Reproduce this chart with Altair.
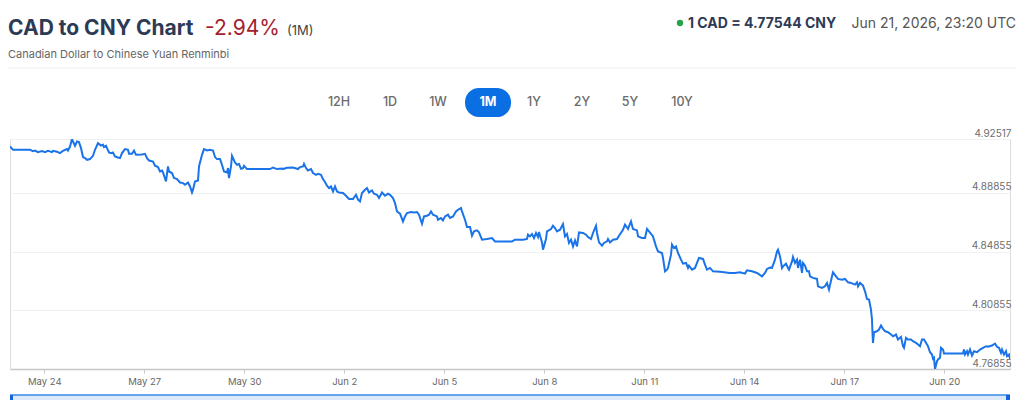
import altair as alt
import pandas as pd

START = "2026-05-22T23:20:00Z"

offset_days = [
    0.00, 0.09, 0.60, 0.69, 0.75, 0.84, 0.96, 1.05, 1.14, 1.26,
    1.29, 1.41, 1.50, 1.59, 1.71, 1.74, 1.80, 1.86, 1.89, 1.95,
    2.01, 2.07, 2.13, 2.19, 2.25, 2.31, 2.40, 2.49, 2.55, 2.64,
    2.73, 2.79, 2.82, 2.88, 2.91, 2.97, 3.03, 3.09, 3.15, 3.24,
    3.30, 3.36, 3.45, 3.54, 3.57, 3.66, 3.72, 3.78, 3.96, 4.05,
    4.11, 4.17, 4.29, 4.35, 4.44, 4.50, 4.56, 4.59, 4.68, 4.74,
    4.77, 4.86, 4.92, 5.01, 5.10, 5.19, 5.25, 5.34, 5.40, 5.46,
    5.49, 5.55, 5.64, 5.67, 5.76, 5.82, 5.91, 6.00, 6.09, 6.15,
    6.21, 6.30, 6.36, 6.42, 6.51, 6.54, 6.57, 6.63, 6.66, 6.75,
    6.81, 6.87, 6.93, 6.99, 7.02, 7.11, 7.80, 7.89, 8.01, 8.16,
    8.19, 8.31, 8.49, 8.64, 8.70, 8.79, 8.82, 8.88, 8.94, 9.03,
    9.09, 9.18, 9.24, 9.33, 9.39, 9.45, 9.51, 9.57, 9.63, 9.69,
    9.75, 9.81, 9.87, 9.99, 10.08, 10.17, 10.29, 10.38, 10.44, 10.50,
    10.56, 10.65, 10.71, 10.77, 10.86, 10.92, 11.01, 11.07, 11.16, 11.25,
    11.34, 11.40, 11.49, 11.55, 11.61, 11.70, 11.79, 11.85, 11.91, 12.03,
    12.12, 12.21, 12.27, 12.36, 12.42, 12.51, 12.57, 12.63, 12.69, 12.81,
    12.84, 12.93, 12.99, 13.05, 13.14, 13.20, 13.29, 13.38, 13.44, 13.53,
    13.56, 13.65, 13.71, 13.80, 13.86, 13.92, 14.01, 14.07, 14.16, 14.31,
    14.46, 14.55, 15.06, 15.15, 15.39, 15.51, 15.54, 15.60, 15.66, 15.72,
    15.78, 15.84, 15.87, 15.96, 15.99, 16.08, 16.11, 16.23, 16.29, 16.35,
    16.41, 16.50, 16.59, 16.65, 16.71, 16.77, 16.83, 16.89, 16.95, 17.01,
    17.07, 17.19, 17.28, 17.34, 17.43, 17.49, 17.58, 17.61, 17.67, 17.76,
    17.82, 17.91, 17.94, 18.00, 18.09, 18.21, 18.27, 18.39, 18.45, 18.54,
    18.57, 18.63, 18.69, 18.81, 18.84, 18.96, 19.05, 19.11, 19.17, 19.29,
    19.38, 19.44, 19.56, 19.59, 19.65, 19.71, 19.74, 19.83, 19.86, 19.92,
    19.98, 20.04, 20.13, 20.19, 20.28, 20.34, 20.37, 20.46, 20.55, 20.61,
    20.67, 20.79, 20.85, 20.91, 21.00, 21.09, 21.30, 21.60, 21.75, 21.90,
    22.05, 22.11, 22.26, 22.41, 22.56, 22.65, 22.71, 22.80, 22.86, 22.95,
    23.01, 23.04, 23.10, 23.16, 23.19, 23.28, 23.34, 23.37, 23.46, 23.49,
    23.55, 23.61, 23.64, 23.70, 23.76, 23.79, 23.85, 23.91, 23.97, 24.00,
    24.09, 24.21, 24.24, 24.36, 24.45, 24.51, 24.57, 24.66, 24.69, 24.78,
    24.84, 24.96, 25.05, 25.14, 25.23, 25.35, 25.41, 25.44, 25.50, 25.59,
    25.65, 25.71, 25.77, 25.83, 25.86, 25.87, 25.89, 25.92, 26.01, 26.07,
    26.13, 26.19, 26.25, 26.34, 26.43, 26.49, 26.58, 26.64, 26.73, 26.79,
    26.82, 26.88, 26.94, 27.03, 27.09, 27.18, 27.24, 27.30, 27.36, 27.42,
    27.48, 27.54, 27.60, 27.66, 27.69, 27.72, 27.75, 27.81, 27.84, 27.90,
    27.93, 27.99, 28.02, 28.59, 28.62, 28.65, 28.71, 28.74, 28.80, 28.86,
    28.92, 29.01, 29.10, 29.19, 29.28, 29.34, 29.46, 29.55, 29.61, 29.67,
    29.73, 29.76, 29.82, 29.88, 29.91, 29.97, 30.00,
]

cad_cny = [
    4.92005, 4.91781, 4.91781, 4.91693, 4.91733, 4.91625, 4.91693, 4.91625, 4.91713, 4.91625,
    4.91713, 4.91645, 4.91557, 4.91713, 4.91829, 4.91733, 4.92005, 4.92517, 4.92345, 4.92053,
    4.92345, 4.92305, 4.91897, 4.91285, 4.91217, 4.91101, 4.91149, 4.91373, 4.91781, 4.92237,
    4.92073, 4.92121, 4.91965, 4.92053, 4.91897, 4.91597, 4.91557, 4.91597, 4.91325, 4.91257,
    4.91217, 4.91557, 4.91829, 4.91781, 4.91509, 4.91509, 4.91733, 4.91441, 4.91461, 4.91509,
    4.91217, 4.91053, 4.90985, 4.90693, 4.90605, 4.90305, 4.90373, 4.90237, 4.89625, 4.90645,
    4.90305, 4.90197, 4.89857, 4.89789, 4.89557, 4.89517, 4.89401, 4.89557, 4.89285, 4.88877,
    4.89061, 4.89625, 4.89693, 4.90645, 4.91441, 4.91829, 4.91733, 4.91781, 4.91733, 4.91285,
    4.91149, 4.91149, 4.90761, 4.90305, 4.90237, 4.90537, 4.89857, 4.90645, 4.91373, 4.90917,
    4.90761, 4.90809, 4.90489, 4.90537, 4.90693, 4.90469, 4.90469, 4.90577, 4.90469, 4.90510,
    4.90469, 4.90557, 4.90577, 4.90469, 4.90605, 4.90645, 4.90829, 4.90537, 4.90373, 4.90469,
    4.90197, 4.90081, 4.90149, 4.90081, 4.89789, 4.89585, 4.89333, 4.89177, 4.89285, 4.88945,
    4.89285, 4.88945, 4.88877, 4.88837, 4.88653, 4.88429, 4.88429, 4.88721, 4.88381, 4.88265,
    4.88837, 4.89061, 4.89177, 4.88877, 4.89013, 4.88789, 4.88721, 4.88497, 4.88877, 4.88653,
    4.88789, 4.88721, 4.88497, 4.88157, 4.87585, 4.87429, 4.86905, 4.87245, 4.87477, 4.87545,
    4.87517, 4.87545, 4.87361, 4.86749, 4.87245, 4.87293, 4.87361, 4.87585, 4.87361, 4.87245,
    4.87021, 4.87137, 4.86973, 4.87245, 4.87361, 4.87137, 4.87245, 4.87585, 4.87701, 4.87817,
    4.87585, 4.87021, 4.86525, 4.86525, 4.85933, 4.86225, 4.86293, 4.86157, 4.85661, 4.85709,
    4.85777, 4.85545, 4.85545, 4.85661, 4.85661, 4.85709, 4.86001, 4.85885, 4.86049, 4.85777,
    4.86117, 4.85845, 4.86185, 4.85477, 4.84981, 4.85709, 4.86225, 4.86389, 4.86613, 4.86457,
    4.86225, 4.86341, 4.86729, 4.85885, 4.86049, 4.85437, 4.85661, 4.85205, 4.85613, 4.85205,
    4.86157, 4.86117, 4.86001, 4.85845, 4.85709, 4.86117, 4.86613, 4.86117, 4.85477, 4.85253,
    4.85437, 4.85545, 4.85709, 4.85477, 4.85661, 4.85709, 4.85933, 4.86341, 4.86681, 4.86389,
    4.86565, 4.86905, 4.86389, 4.86293, 4.85885, 4.85777, 4.85777, 4.86389, 4.86225, 4.85885,
    4.85205, 4.84865, 4.84757, 4.84417, 4.83505, 4.83621, 4.83737, 4.84641, 4.85321, 4.85097,
    4.85205, 4.84757, 4.84301, 4.84029, 4.84077, 4.83737, 4.83893, 4.83621, 4.83737, 4.84077,
    4.84417, 4.84349, 4.83961, 4.83621, 4.83737, 4.83505, 4.83485, 4.83397, 4.83397, 4.83437,
    4.83349, 4.83573, 4.83505, 4.83397, 4.83165, 4.83397, 4.83669, 4.83757, 4.83737, 4.84301,
    4.84865, 4.84981, 4.84525, 4.83737, 4.83845, 4.84029, 4.83737, 4.83621, 4.84185, 4.84485,
    4.84077, 4.84301, 4.83737, 4.84301, 4.83397, 4.84077, 4.83893, 4.83505, 4.83505, 4.83165,
    4.83057, 4.82989, 4.82485, 4.82377, 4.82485, 4.82717, 4.82261, 4.83165, 4.83437, 4.83165,
    4.82989, 4.82941, 4.82989, 4.82757, 4.82717, 4.82601, 4.82757, 4.82485, 4.82717, 4.82533,
    4.82145, 4.81629, 4.81581, 4.80901, 4.80221, 4.79541, 4.78637, 4.79357, 4.79425, 4.79541,
    4.79813, 4.79589, 4.79425, 4.79357, 4.79201, 4.79085, 4.79201, 4.78861, 4.79045, 4.78405,
    4.78297, 4.78977, 4.78861, 4.78861, 4.78745, 4.78637, 4.78521, 4.78405, 4.78861, 4.78861,
    4.78637, 4.78405, 4.77997, 4.77841, 4.77549, 4.77617, 4.76855, 4.77385, 4.77501, 4.77617,
    4.78297, 4.78181, 4.77909, 4.77909, 4.78181, 4.77841, 4.78065, 4.77841, 4.78181, 4.77773,
    4.78065, 4.77997, 4.78181, 4.78297, 4.78405, 4.78365, 4.78453, 4.78589, 4.78365, 4.78297,
    4.77957, 4.78181, 4.77841, 4.78065, 4.77725, 4.77841, 4.77544,
]

y_ticks = [4.76855, 4.80855, 4.84855, 4.88855, 4.92517]
x_tick_dates = ["2026-05-24", "2026-05-27", "2026-05-30", "2026-06-02", "2026-06-05",
                "2026-06-08", "2026-06-11", "2026-06-14", "2026-06-17", "2026-06-20"]
range_buttons = ["12H", "1D", "1W", "1M", "1Y", "2Y", "5Y", "10Y"]
active_range = "1M"

TITLE = "CAD to CNY Chart"
CHANGE = "-2.94%"
PERIOD = "(1M)"
SUBTITLE = "Canadian Dollar to Chinese Yuan Renminbi"
QUOTE = "1 CAD = 4.77544 CNY"
STAMP = "Jun 21, 2026, 23:20 UTC"

FONT = "Inter"
BLUE = "#1a73e8"

start = pd.Timestamp(START)
times = start + pd.to_timedelta(offset_days, unit="D")
df = pd.DataFrame({"t": times.strftime("%Y-%m-%dT%H:%M:%SZ"), "v": cad_cny})

x0 = int(start.timestamp() * 1000)
x1 = int((start + pd.Timedelta(days=30)).timestamp() * 1000)
x_vals = [int(pd.Timestamp(d, tz="UTC").timestamp() * 1000) for d in x_tick_dates]

line = alt.Chart(df).mark_line(color=BLUE, strokeWidth=2, clip=True).encode(
    x=alt.X("t:T",
            scale=alt.Scale(type="utc", domain=[x0, x1]),
            axis=alt.Axis(values=x_vals, labelExpr="utcFormat(datum.value, '%b %-d')",
                          title=None, grid=False, domainColor="#c6c6c6", domainWidth=1.5,
                          tickColor="#c6c6c6", tickSize=4, labelColor="#666666",
                          labelFontSize=9.5, labelFont=FONT, labelPadding=3,
                          labelOverlap=False, labelFlush=False)),
    y=alt.Y("v:Q",
            scale=alt.Scale(domain=[4.76855, 4.92517], zero=False, nice=False),
            axis=alt.Axis(values=y_ticks, orient="right", title=None, grid=True,
                          gridColor="#f1f1f1", domain=False, ticks=False, tickSize=0,
                          labelAlign="right", labelBaseline="bottom", labelPadding=1,
                          labelOffset=-1, format=".5f", labelFontSize=10,
                          labelFont=FONT, labelColor="#6e6e6e", labelOverlap=False,
                          labelFlush=False)),
)

one = pd.DataFrame({"k": [0]})


def txt(s, x, y, size, color, weight="normal", align="left", baseline="alphabetic"):
    return alt.Chart(one).mark_text(
        text=s, fontSize=size, color=color, fontWeight=weight, align=align,
        baseline=baseline, font=FONT
    ).encode(x=alt.value(x), y=alt.value(y))


layers = [line]

# header
layers.append(txt(TITLE, -2, -104, 21, "#2d3a55", weight="bold"))
layers.append(txt(CHANGE, 195, -104, 21, "#a3212e"))
layers.append(txt(PERIOD, 277, -104, 13, "#444444"))
layers.append(txt(SUBTITLE, -2, -81, 11, "#666666"))
layers.append(alt.Chart(one).mark_rule(color="#ededed", strokeWidth=1).encode(
    x=alt.value(-2), x2=alt.value(1006), y=alt.value(-71)))

layers.append(alt.Chart(one).mark_point(filled=True, size=40, color="#22a447", opacity=1).encode(
    x=alt.value(670), y=alt.value(-116)))
layers.append(txt(QUOTE, 678, -111, 14, "#2d3a55", weight="bold"))
layers.append(txt(STAMP, 1006, -111, 14, "#555555", align="right"))

# range buttons
layers.append(alt.Chart(one).mark_rect(cornerRadius=14, color="#0b6fe4").encode(
    x=alt.value(455), x2=alt.value(501), y=alt.value(-51), y2=alt.value(-22)))
btn_x = [329, 380, 428, 478, 524, 572, 620, 672]
for label, bx in zip(range_buttons, btn_x):
    active = label == active_range
    layers.append(txt(label, bx, -37, 12.5, "#ffffff" if active else "#6b6b6b",
                      weight="bold" if active else 500, align="center", baseline="middle"))

# navigator strip
layers.append(alt.Chart(one).mark_rect(color="#dde9fb").encode(
    x=alt.value(0), x2=alt.value(1000), y=alt.value(256), y2=alt.value(262)))
layers.append(alt.Chart(one).mark_rule(color="#3a8ae8", strokeWidth=1.5).encode(
    x=alt.value(0), x2=alt.value(1000), y=alt.value(256)))
layers.append(alt.Chart(one).mark_rect(color="#1565d8").encode(
    x=alt.value(0), x2=alt.value(3), y=alt.value(256), y2=alt.value(262)))
layers.append(alt.Chart(one).mark_rect(color="#1565d8").encode(
    x=alt.value(996), x2=alt.value(1000), y=alt.value(256), y2=alt.value(262)))

chart = alt.layer(*layers).properties(
    width=1000,
    height=230,
    autosize=alt.AutoSizeParams(type="none"),
    padding={"left": 10, "top": 139, "right": 14, "bottom": 31},
    background="#ffffff",
).configure_view(stroke=None).configure(font=FONT)

chart.save("out.html", embed_options={"renderer": "svg", "actions": False})
